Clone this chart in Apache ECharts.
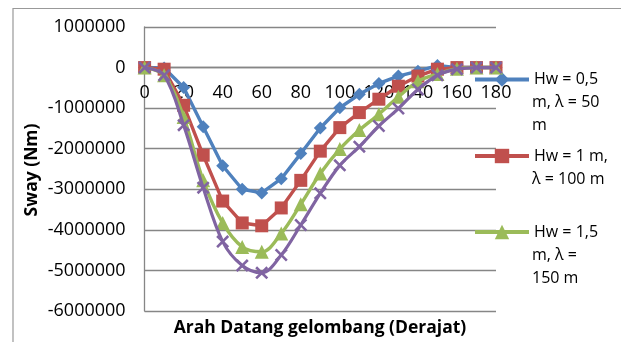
<!DOCTYPE html>
<html>
<head>
<meta charset="utf-8">
<script src="https://cdn.jsdelivr.net/npm/echarts@6/dist/echarts.min.js"></script>
<style>html,body{margin:0;padding:0;background:#fff}#c{width:621px;height:342px}</style>
</head>
<body>
<div id="c"></div>
<script>
var angles = [0, 10, 20, 30, 40, 50, 60, 70, 80, 90, 100, 110, 120, 130, 140, 150, 160, 170, 180];
var hw05 = [0, -10000, -490000, -1460000, -2420000, -3000000, -3090000, -2740000, -2120000, -1490000, -990000, -660000, -390000, -210000, -90000, 50000, 0, 0, 0];
var hw1 = [0, -40000, -930000, -2160000, -3290000, -3830000, -3900000, -3460000, -2780000, -2060000, -1480000, -1110000, -780000, -460000, -210000, -40000, 0, 0, 0];
var hw15 = [0, -190000, -1220000, -2780000, -3830000, -4420000, -4540000, -4090000, -3370000, -2610000, -2010000, -1540000, -1150000, -720000, -340000, -160000, -30000, 0, 0];
var hw2 = [0, -190000, -1420000, -2960000, -4290000, -4880000, -5060000, -4620000, -3880000, -3100000, -2410000, -1950000, -1440000, -1010000, -540000, -190000, -40000, 0, 0];
var yTicks = [-6000000, -5000000, -4000000, -3000000, -2000000, -1000000, 0, 1000000];
var xTicks = [0, 20, 40, 60, 80, 100, 120, 140, 160, 180];
var names = ['Hw = 0,5', 'Hw = 1 m,', 'Hw = 1,5', 'Hw = 2 m,'];
var nameCont = [['m, \u03bb = 50', 'm'], ['\u03bb = 100 m'], ['m, \u03bb =', '150 m']];

function pairs(vals) { return angles.map(function (a, i) { return [a, vals[i]]; }); }

var FONT = 'Open Sans';
var xSym = 'path://M0,1.4L1.4,0L5,3.6L8.6,0L10,1.4L6.4,5L10,8.6L8.6,10L5,6.4L1.4,10L0,8.6L3.6,5Z';

var legendIconY = [79.5, 156, 232];
var LH = 23;

function legendFor(name, iconY) {
  return {
    data: [name], left: 473, top: iconY - LH / 2, orient: 'vertical', padding: 0,
    itemWidth: 54, itemHeight: 18,
    lineStyle: { width: 4 },
    textStyle: { fontFamily: FONT, fontSize: 16, color: '#000', lineHeight: LH }
  };
}

var graphics = [
  { type: 'rect', shape: { x: 13, y: 8.5, width: 700, height: 400 }, style: { fill: 'none', stroke: '#999', lineWidth: 1.2 }, z: -1 },
  { type: 'text', x: 320, y: 328, style: { text: 'Arah Datang gelombang (Derajat)', fontFamily: FONT, fontWeight: 'bold', fontSize: 17.5, fill: '#000', align: 'center', verticalAlign: 'middle' } },
  { type: 'text', rotation: Math.PI / 2, x: 32, y: 170, style: { text: 'Sway (Nm)', fontFamily: FONT, fontWeight: 'bold', fontSize: 17.5, fill: '#000', align: 'center', verticalAlign: 'middle' } }
];
nameCont.forEach(function (lines, k) {
  lines.forEach(function (t, j) {
    graphics.push({ type: 'text', x: 532, y: legendIconY[k] + (j + 1) * LH,
      style: { text: t, fontFamily: FONT, fontSize: 16, fill: '#000', align: 'left', verticalAlign: 'middle' } });
  });
});

var gridTop = 27, gridBottom = 31, H = 342;
var gridH = H - gridTop - gridBottom;
var yMin = -6000000, yMax = 1000000;

var chart = echarts.init(document.getElementById('c'), null, { renderer: 'canvas' });
chart.setOption({
  backgroundColor: '#fff',
  animation: false,
  grid: { left: 144.6, right: 125, top: gridTop, bottom: gridBottom },
  graphic: graphics,
  legend: [
    legendFor(names[0], legendIconY[0]),
    legendFor(names[1], legendIconY[1]),
    legendFor(names[2], legendIconY[2])
  ],
  xAxis: {
    type: 'value', min: 0, max: 180, interval: 20,
    offset: -gridH * (0 - yMin) / (yMax - yMin),
    axisLine: { onZero: false, lineStyle: { color: '#868686', width: 1.3 } },
    axisTick: { show: false },
    splitLine: { show: false },
    axisLabel: { fontFamily: FONT, fontSize: 18, color: '#000', margin: 16, customValues: xTicks }
  },
  yAxis: {
    type: 'value', min: yMin, max: yMax, interval: 1000000,
    axisLine: { show: true, lineStyle: { color: '#868686', width: 1.3 } },
    axisTick: { show: false },
    splitLine: { show: true, lineStyle: { color: '#868686', width: 1.3 } },
    axisLabel: { fontFamily: FONT, fontSize: 18, color: '#000', margin: 19, customValues: yTicks,
      formatter: function (v) { return String(v); } }
  },
  series: [
    { name: names[0], type: 'line', data: pairs(hw05), smooth: false, symbol: 'diamond', symbolSize: 13,
      color: '#4F81BD', lineStyle: { width: 3.4, color: '#4F81BD' }, itemStyle: { color: '#4F81BD' }, z: 2 },
    { name: names[1], type: 'line', data: pairs(hw1), smooth: false, symbol: 'rect', symbolSize: 13,
      color: '#C0504D', lineStyle: { width: 3.4, color: '#C0504D' }, itemStyle: { color: '#C0504D' }, z: 3 },
    { name: names[2], type: 'line', data: pairs(hw15), smooth: 0.35, symbol: 'triangle', symbolSize: 14,
      color: '#9BBB59', lineStyle: { width: 3.4, color: '#9BBB59' }, itemStyle: { color: '#9BBB59' }, z: 4 },
    { name: names[3], type: 'line', data: pairs(hw2), smooth: 0.35, symbol: xSym, symbolSize: 13,
      color: '#8064A2', lineStyle: { width: 3.2, color: '#8064A2' }, itemStyle: { color: '#8064A2' }, z: 5 }
  ]
});
</script>
</body>
</html>
